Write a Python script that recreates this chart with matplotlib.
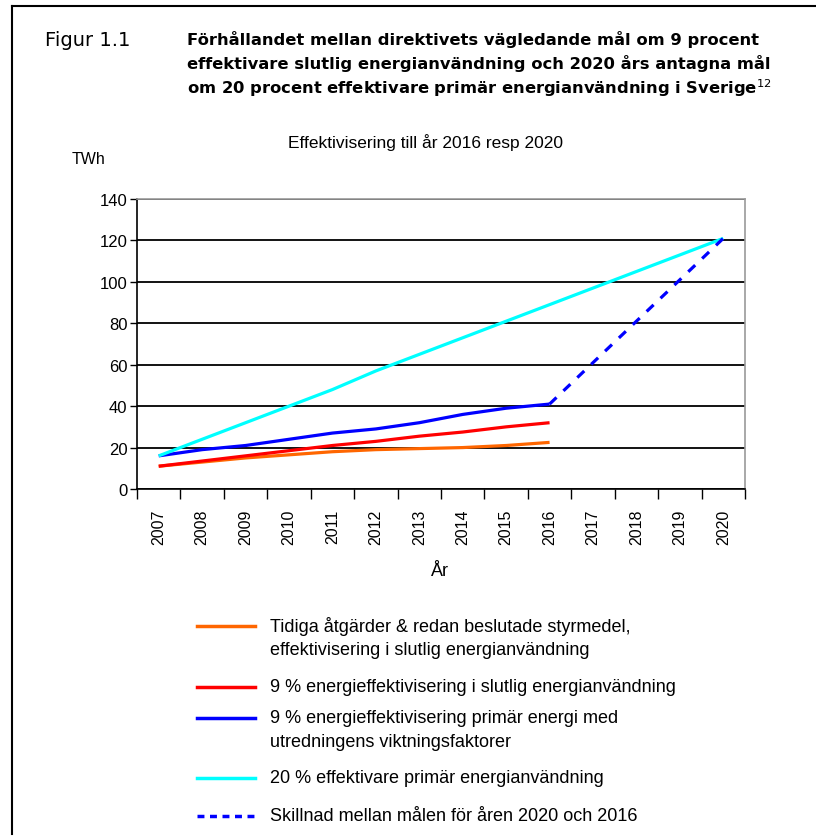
import matplotlib
matplotlib.use("Agg")
import matplotlib.pyplot as plt
from matplotlib.lines import Line2D
import numpy as np

plt.rcParams['font.family'] = ['Liberation Sans', 'DejaVu Sans']

# Data (TWh)
years = [str(y) for y in range(2007, 2021)]
years_2016 = years[:10]
tidiga = [11, 13, 15, 16.5, 18, 19, 19.5, 20, 21, 22.5]
slutlig_9 = [11, 13.5, 16, 18.5, 21, 23, 25.5, 27.5, 30, 32]
primar_9 = [16, 19, 21, 24, 27, 29, 32, 36, 39, 41]
primar_20 = [16, 24, 32, 40, 48, 57, 65, 73, 81, 89, 97, 105, 113, 121]
skillnad_years = ['2016', '2020']
skillnad = [41, 121]

colors = {
    'tidiga': '#FF6600',
    'slutlig': '#FF0000',
    'primar9': '#0000FF',
    'primar20': '#00FFFF',
}

legend_labels = [
    ["Tidiga åtgärder & redan beslutade styrmedel,",
     "effektivisering i slutlig energianvändning"],
    ["9 % energieffektivisering i slutlig energianvändning"],
    ["9 % energieffektivisering primär energi med",
     "utredningens viktningsfaktorer"],
    ["20 % effektivare primär energianvändning"],
    ["Skillnad mellan målen för åren 2020 och 2016"],
]

W, H = 816, 837
fig = plt.figure(figsize=(W / 100, H / 100), dpi=100)

def fx(px):
    return px / W

def fy(py):
    return 1 - py / H

# outer frame (left and top edges only)
fig.add_artist(Line2D([fx(12), fx(12)], [fy(835), fy(7)], color='black', lw=1.5))
fig.add_artist(Line2D([fx(12), fx(816)], [fy(7), fy(7)], color='black', lw=1.5))

# header
fig.text(fx(45), fy(40), "Figur 1.1", fontsize=14, va='center', ha='left',
         family='DejaVu Sans')
title_lines = [
    "Förhållandet mellan direktivets vägledande mål om 9 procent",
    "effektivare slutlig energianvändning och 2020 års antagna mål",
    "om 20 procent effektivare primär energianvändning i Sverige$^{12}$",
]
for i, line in enumerate(title_lines):
    fig.text(fx(187), fy(40 + i * 24), line, fontsize=11.8, fontweight='bold',
             va='center', ha='left', family='DejaVu Sans')

fig.text(fx(425), fy(143), "Effektivisering till år 2016 resp 2020", fontsize=12.5,
         va='center', ha='center')
fig.text(fx(72), fy(160), "TWh", fontsize=11.5, va='center', ha='left')

# plot area
ax = fig.add_axes([fx(137), fy(490), fx(745) - fx(137), fy(200) - fy(490)])
x_all = np.arange(len(years))
idx = {y: i for i, y in enumerate(years)}
x16 = [idx[y] for y in years_2016]

ax.plot(x16, tidiga, color=colors['tidiga'], lw=2.3, solid_capstyle='butt')
ax.plot(x16, slutlig_9, color=colors['slutlig'], lw=2.3, solid_capstyle='butt')
ax.plot(x16, primar_9, color=colors['primar9'], lw=2.3, solid_capstyle='butt')
ax.plot(x_all, primar_20, color=colors['primar20'], lw=2.3, solid_capstyle='butt')
ax.plot([idx[y] for y in skillnad_years], skillnad, color=colors['primar9'], lw=2.3,
        linestyle=(0, (3, 3)))

ax.set_xlim(-0.5, len(years) - 0.5)
ax.set_ylim(0, 140)
ax.set_yticks(np.arange(0, 141, 20))
ax.yaxis.grid(True, color='black', lw=1.3)
ax.set_axisbelow(True)

# category axis: ticks between categories, labels at centers
ax.set_xticks(np.arange(-0.5, len(years), 1.0))
ax.set_xticklabels([])
ax.set_xticks(x_all, minor=True)
ax.set_xticklabels(years, minor=True, rotation=90, fontsize=11.5)
ax.tick_params(axis='x', which='major', length=7, width=1, direction='out')
ax.tick_params(axis='x', which='minor', length=0, pad=14)
ax.tick_params(axis='y', length=5, width=1, labelsize=12, pad=2)

for side in ['left', 'bottom']:
    ax.spines[side].set_color('black')
    ax.spines[side].set_linewidth(1.2)
for side in ['top', 'right']:
    ax.spines[side].set_color('#9a9a9a')
    ax.spines[side].set_linewidth(1.2)

fig.text(fx(440), fy(572), "År", fontsize=13, va='center', ha='center')

# legend drawn below the chart
legend_styles = [
    (colors['tidiga'], '-'),
    (colors['slutlig'], '-'),
    (colors['primar9'], '-'),
    (colors['primar20'], '-'),
    (colors['primar9'], (0, (2, 1.6))),
]
legend_y = [627, 688, 719, 779, 817]
for (col, ls), lines, ly in zip(legend_styles, legend_labels, legend_y):
    fig.add_artist(Line2D([fx(197), fx(255)], [fy(ly), fy(ly)], color=col, lw=2.5,
                          linestyle=ls))
    for k, text in enumerate(lines):
        fig.text(fx(270), fy(ly + k * 24), text, fontsize=13, va='center', ha='left')

fig.savefig("out.png", dpi=100)
